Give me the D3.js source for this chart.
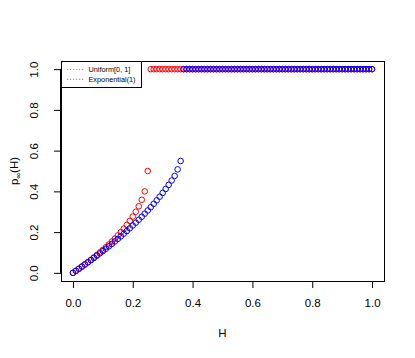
<!DOCTYPE html>
<html>
<head>
<meta charset="utf-8">
<script src="https://cdn.jsdelivr.net/npm/d3@7/dist/d3.min.js"></script>
<style>
  html, body { margin: 0; padding: 0; background: #fff; }
  svg { display: block; }
  text { font-family: "Liberation Sans", Arial, Helvetica, sans-serif; fill: #000; }
</style>
</head>
<body>
<svg id="chart" width="415" height="358"></svg>
<script>
// ---- data ----
const H = [
  0.00,0.01,0.02,0.03,0.04,0.05,0.06,0.07,0.08,0.09,
  0.10,0.11,0.12,0.13,0.14,0.15,0.16,0.17,0.18,0.19,
  0.20,0.21,0.22,0.23,0.24,0.25,0.26,0.27,0.28,0.29,
  0.30,0.31,0.32,0.33,0.34,0.35,0.36,0.37,0.38,0.39,
  0.40,0.41,0.42,0.43,0.44,0.45,0.46,0.47,0.48,0.49,
  0.50,0.51,0.52,0.53,0.54,0.55,0.56,0.57,0.58,0.59,
  0.60,0.61,0.62,0.63,0.64,0.65,0.66,0.67,0.68,0.69,
  0.70,0.71,0.72,0.73,0.74,0.75,0.76,0.77,0.78,0.79,
  0.80,0.81,0.82,0.83,0.84,0.85,0.86,0.87,0.88,0.89,
  0.90,0.91,0.92,0.93,0.94,0.95,0.96,0.97,0.98,0.99,1.00
];
const uniformP = [
  0.0000,0.0101,0.0204,0.0310,0.0417,0.0528,0.0641,0.0757,0.0877,0.1000,
  0.1127,0.1258,0.1394,0.1536,0.1683,0.1838,0.2000,0.2172,0.2354,0.2551,
  0.2764,0.3000,0.3268,0.3586,0.4000,0.5000,1,1,1,1,
  1,1,1,1,1,1,1,1,1,1,
  1,1,1,1,1,1,1,1,1,1,
  1,1,1,1,1,1,1,1,1,1,
  1,1,1,1,1,1,1,1,1,1,
  1,1,1,1,1,1,1,1,1,1,
  1,1,1,1,1,1,1,1,1,1,
  1,1,1,1,1,1,1,1,1,1,1
];
const exponentialP = [
  0.0000,0.0101,0.0203,0.0306,0.0410,0.0516,0.0623,0.0732,0.0843,0.0955,
  0.1068,0.1184,0.1302,0.1421,0.1543,0.1667,0.1793,0.1922,0.2053,0.2187,
  0.2324,0.2464,0.2608,0.2756,0.2907,0.3063,0.3223,0.3389,0.3561,0.3739,
  0.3924,0.4117,0.4319,0.4533,0.4759,0.5080,0.5490,1,1,1,
  1,1,1,1,1,1,1,1,1,1,
  1,1,1,1,1,1,1,1,1,1,
  1,1,1,1,1,1,1,1,1,1,
  1,1,1,1,1,1,1,1,1,1,
  1,1,1,1,1,1,1,1,1,1,
  1,1,1,1,1,1,1,1,1,1,1
];
const xTicks = [0.0, 0.2, 0.4, 0.6, 0.8, 1.0];
const yTicks = [0.0, 0.2, 0.4, 0.6, 0.8, 1.0];
const seriesNames = ["Uniform[0, 1]", "Exponential(1)"];
const seriesColors = ["#ff0000", "#0000ff"];

// ---- layout ----
const svg = d3.select("#chart");
const box = { left: 61, right: 384, top: 61, bottom: 281 };
const x = d3.scaleLinear().domain([-0.04, 1.04]).range([box.left, box.right]);
const y = d3.scaleLinear().domain([-0.04, 1.04]).range([box.bottom, box.top]);
const fmt = d3.format(".1f");

// x axis
const xAxis = d3.axisBottom(x).tickValues(xTicks).tickFormat(fmt).tickSize(7).tickPadding(11);
const gx = svg.append("g").attr("transform", `translate(0,${box.bottom})`).call(xAxis);
gx.select(".domain").attr("d", `M${x(0)},0.5H${x(1)}`).attr("stroke", "#000");
gx.selectAll("line").attr("stroke", "#000");
gx.selectAll("text").attr("font-size", "11.5px").attr("fill", "#000")
  .attr("font-family", "Liberation Sans, Arial, sans-serif");

// y axis
const yAxis = d3.axisLeft(y).tickValues(yTicks).tickFormat(fmt).tickSize(7).tickPadding(11);
const gy = svg.append("g").attr("transform", `translate(${box.left},0)`).call(yAxis);
gy.select(".domain").attr("d", `M-0.5,${y(0)}V${y(1)}`).attr("stroke", "#000");
gy.selectAll("line").attr("stroke", "#000");
gy.selectAll("text")
  .attr("font-size", "11.5px").attr("fill", "#000")
  .attr("font-family", "Liberation Sans, Arial, sans-serif")
  .attr("text-anchor", "middle").attr("x", null)
  .attr("transform", "translate(-23,0) rotate(-90)")
  .attr("dy", "0");

// box
svg.append("rect")
  .attr("x", box.left + 0.5).attr("y", box.top + 0.5)
  .attr("width", box.right - box.left).attr("height", box.bottom - box.top)
  .attr("fill", "none").attr("stroke", "#000").attr("stroke-width", 1);

// points
const series = [uniformP, exponentialP];
series.forEach((vals, i) => {
  svg.append("g").selectAll("circle")
    .data(H.map((h, j) => [h, vals[j]]))
    .join("circle")
    .attr("cx", d => x(d[0]))
    .attr("cy", d => y(d[1]))
    .attr("r", 2.8)
    .attr("fill", "none")
    .attr("stroke", seriesColors[i])
    .attr("stroke-width", 1);
});

// axis titles
svg.append("text")
  .attr("x", (box.left + box.right) / 2).attr("y", 337)
  .attr("text-anchor", "middle").attr("font-size", "11.5px").text("H");

const yl = svg.append("text")
  .attr("transform", `translate(18,${(box.top + box.bottom) / 2}) rotate(-90)`)
  .attr("text-anchor", "middle").attr("font-size", "11.5px");
yl.append("tspan").text("p");
yl.append("tspan").attr("font-size", "8px").attr("dy", "3").text("\u221E");
yl.append("tspan").attr("dy", "-3").text("(H)");

// legend
const lg = svg.append("g");
lg.append("rect")
  .attr("x", box.left + 0.5).attr("y", box.top + 0.5)
  .attr("width", 80).attr("height", 26)
  .attr("fill", "#fff").attr("stroke", "#000").attr("stroke-width", 1);
seriesNames.forEach((name, i) => {
  const yy = 69.5 + i * 9.8;
  lg.append("line")
    .attr("x1", 67).attr("x2", 84).attr("y1", yy).attr("y2", yy)
    .attr("stroke", seriesColors[i]).attr("stroke-width", 1)
    .attr("stroke-opacity", 0.55)
    .attr("stroke-dasharray", "1.2,1.8");
  lg.append("text")
    .attr("x", 88.5).attr("y", yy).attr("dy", "0.35em")
    .attr("font-size", "7.3px").text(name);
});
</script>
</body>
</html>
